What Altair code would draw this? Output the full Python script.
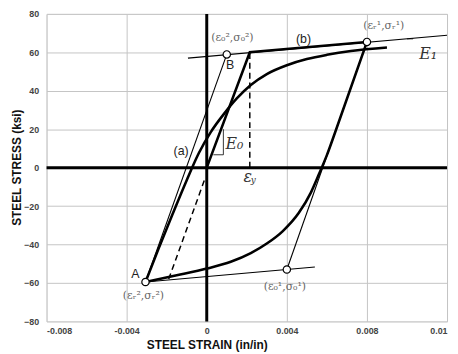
import altair as alt
import pandas as pd

# ---- data ----
# monotonic bilinear envelope (thick)
env_strain = [0.0, 0.00215, 0.008]
env_stress = [0.0, 60.0, 65.4]

# asymptote (b), slope E1 (thin)
asym_b_strain = [-0.00094, 0.012]
asym_b_stress = [57.0, 68.9]

# asymptote (a), slope E0 from A to B (thin)
asym_a_strain = [-0.00306, 0.001]
asym_a_stress = [-59.5, 58.9]

# elastic line from (eps_r1, sig_r1) to (eps_01, sig_01) (thin)
unl_asym_strain = [0.008, 0.004]
unl_asym_stress = [65.4, -53.0]

# compression asymptote slope E1 (thin)
comp_asym_strain = [-0.00306, 0.0054]
comp_asym_stress = [-59.5, -51.7]

# unloading branch from (eps_r1, sig_r1) to A (thick curve)
unload_strain = [-0.00306, -0.0015, 0.0, 0.0012, 0.0022, 0.003, 0.0038, 0.0046, 0.0052, 0.0056, 0.006, 0.0064, 0.008]
unload_stress = [-59.5, -56.0, -52.5, -49.0, -44.5, -39.5, -33.0, -23.5, -13.0, -3.5, 6.5, 18.0, 65.4]

# reloading branch from A (thick curve)
reload_strain = [-0.00306, -0.0024, -0.0017, -0.001, -0.0004, 0.0002, 0.0009, 0.0015, 0.0022, 0.003, 0.004, 0.005, 0.006, 0.0072, 0.009]
reload_stress = [-59.5, -42.0, -24.0, -6.5, 7.5, 18.5, 28.5, 36.0, 43.0, 48.7, 53.3, 56.5, 58.7, 60.7, 62.5]

# dashed lines
dash_comp_strain = [-0.0019, -0.0001]
dash_comp_stress = [-58.0, -6.0]
dash_ey_strain = [0.00215, 0.00215]
dash_ey_stress = [0.0, 60.0]

# slope triangles
tri0_strain = [0.00033, 0.00083, 0.00083]
tri0_stress = [6.7, 6.7, 20.0]
tri1_strain = [0.0100, 0.0103, 0.0103]
tri1_stress = [67.0, 67.0, 67.3]

# marked points (open circles)
pt_strain = [-0.00306, 0.001, 0.008, 0.004]
pt_stress = [-59.5, 58.9, 65.4, -53.0]

# labels
coord_labels = ["(ε₀²,σ₀²)", "(εᵣ¹,σᵣ¹)", "(εᵣ²,σᵣ²)", "(ε₀¹,σ₀¹)"]
coord_label_strain = [0.00128, 0.00884, -0.00316, 0.0039]
coord_label_stress = [67.5, 73.5, -67.0, -62.2]

letter_labels = ["A", "B", "(a)", "(b)"]
letter_label_strain = [-0.00356, 0.00117, -0.00128, 0.00483]
letter_label_stress = [-55.5, 53.3, 8.7, 66.7]

sym_labels = ["E₀", "E₁", "ε"]
sym_label_strain = [0.00138, 0.01106, 0.00205]
sym_label_stress = [12.3, 59.3, -4.8]
sub_labels = ["y"]
sub_label_strain = [0.00232]
sub_label_stress = [-6.6]

x_ticks = [-0.008, -0.004, 0.0, 0.004, 0.008, 0.012]
x_tick_labels = ["-0.008", "-0.004", "0", "0.004", "0.008", "0.01"]
y_ticks = [-80, -60, -40, -20, 0, 20, 40, 60, 80]

# ---- chart ----
xs = alt.Scale(domain=[-0.008, 0.012], nice=False, zero=False)
ys = alt.Scale(domain=[-80, 80], nice=False, zero=False)

label_expr = "[" + ",".join("'%s'" % t for t in x_tick_labels) + "][round((datum.value + 0.008) / 0.004)]"

X = alt.X("strain:Q", scale=xs, axis=alt.Axis(
    values=x_ticks, labelExpr=label_expr, title="STEEL STRAIN (in/in)",
    grid=True, gridColor="#c4c4c4", gridWidth=1, domain=False, ticks=False,
    labelPadding=5, labelFontSize=9, labelColor="#444", labelFontWeight="bold", labelFont="Liberation Sans",
    titleFont="Liberation Sans", titleFontSize=12, titleFontWeight="bold", titleColor="#111",
    titleX=162, titleY=27, titleAlign="center", titleBaseline="alphabetic"))
Y = alt.Y("stress:Q", scale=ys, axis=alt.Axis(
    values=y_ticks, format="d", title="STEEL STRESS (ksi)",
    grid=True, gridColor="#c4c4c4", gridWidth=1, domain=False, ticks=False,
    labelPadding=8, labelFontSize=9, labelColor="#444", labelFontWeight="bold", labelFont="Liberation Sans",
    titleFont="Liberation Sans", titleFontSize=12, titleFontWeight="bold", titleColor="#111",
    titleX=-30, titleY=155, titleAlign="center", titleBaseline="middle", titleAngle=-90))


def df(s, t):
    d = pd.DataFrame({"strain": s, "stress": t})
    d["i"] = range(len(d))
    return d


def line(s, t, width, dash=None, interp="linear"):
    kw = dict(color="black", strokeWidth=width, interpolate=interp, clip=True)
    if dash:
        kw["strokeDash"] = dash
    return alt.Chart(df(s, t)).mark_line(**kw).encode(x=X, y=Y, order="i:Q")


layers = [
    line(asym_b_strain, asym_b_stress, 1.1),
    line(asym_a_strain, asym_a_stress, 1.1),
    line(unl_asym_strain, unl_asym_stress, 1.1),
    line(comp_asym_strain, comp_asym_stress, 1.1),
    line(tri0_strain, tri0_stress, 0.8),
    line(tri1_strain, tri1_stress, 0.8),
    line(dash_comp_strain, dash_comp_stress, 1.5, dash=[6, 4]),
    line(dash_ey_strain, dash_ey_stress, 1.5, dash=[6, 4]),
    line(env_strain, env_stress, 2.6),
    line(unload_strain, unload_stress, 2.6, interp="monotone"),
    line(reload_strain, reload_stress, 2.6, interp="monotone"),
]

zero_x = alt.Chart(pd.DataFrame({"strain": [0.0]})).mark_rule(color="black", strokeWidth=3).encode(x=X)
zero_y = alt.Chart(pd.DataFrame({"stress": [0.0]})).mark_rule(color="black", strokeWidth=3).encode(y=Y)

points = alt.Chart(df(pt_strain, pt_stress)).mark_point(
    shape="circle", filled=True, fill="white", stroke="black", strokeWidth=1.2, size=55, opacity=1
).encode(x=X, y=Y)

coord_txt = alt.Chart(pd.DataFrame({"strain": coord_label_strain, "stress": coord_label_stress, "t": coord_labels})).mark_text(
    font="DejaVu Serif", fontSize=11, color="#666", align="center", baseline="middle"
).encode(x=X, y=Y, text="t:N")

letter_txt = alt.Chart(pd.DataFrame({"strain": letter_label_strain, "stress": letter_label_stress, "t": letter_labels})).mark_text(
    font="Liberation Sans", fontSize=12.5, color="#222", align="center", baseline="middle"
).encode(x=X, y=Y, text="t:N")

sym_txt = alt.Chart(pd.DataFrame({"strain": sym_label_strain, "stress": sym_label_stress, "t": sym_labels})).mark_text(
    font="DejaVu Serif", fontSize=16, fontStyle="italic", color="#333", align="center", baseline="middle"
).encode(x=X, y=Y, text="t:N")

sub_txt = alt.Chart(pd.DataFrame({"strain": sub_label_strain, "stress": sub_label_stress, "t": sub_labels})).mark_text(
    font="DejaVu Serif", fontSize=9, fontStyle="italic", color="#333", align="center", baseline="middle"
).encode(x=X, y=Y, text="t:N")

chart = alt.layer(*layers, zero_x, zero_y, points, coord_txt, letter_txt, sym_txt, sub_txt).properties(
    width=405, height=311,
    autosize=alt.AutoSizeParams(type="none"),
    padding={"left": 39, "top": 4, "right": 3, "bottom": 30},
).configure_view(stroke="black", strokeWidth=3.5).configure(background="white")

chart.save("out.html", embed_options={"renderer": "svg", "actions": False})
